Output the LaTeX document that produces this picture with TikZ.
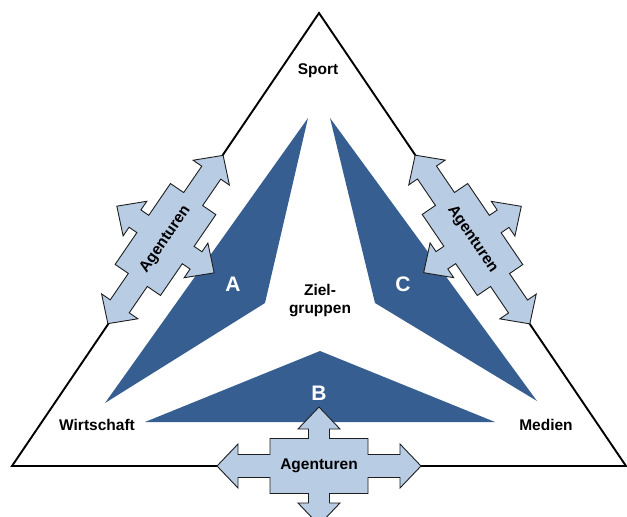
\documentclass[tikz,border=0pt]{standalone}
\usepackage{fontspec}
\usepackage{tikz}
\setmainfont{Liberation Sans}
\definecolor{dunkelblau}{RGB}{54,94,145}
\definecolor{hellblau}{RGB}{184,204,228}
\definecolor{rand}{RGB}{30,30,30}

\begin{document}
\begin{tikzpicture}[x=1pt,y=-1pt,
	feld/.style={fill=dunkelblau, draw=none},
	pfeil/.style={fill=hellblau, draw=rand, line width=0.9pt, line join=miter},
	beschriftung/.style={font=\fontsize{15.5}{18}\selectfont\bfseries, align=center},
	buchstabe/.style={font=\fontsize{21}{24}\selectfont\bfseries, text=white},
	agentur/.pic={\draw[pfeil] (102,0) -- (81,22) -- (81,11.5) -- (49,11.5) -- (49,27.5) -- (10.5,27.5) -- (10.5,37) -- (21,37) -- (0,59) -- (-21,37) -- (-10.5,37) -- (-10.5,27.5) -- (-49,27.5) -- (-49,11.5) -- (-81,11.5) -- (-81,22) -- (-102,0) -- (-81,-22) -- (-81,-11.5) -- (-49,-11.5) -- (-49,-27.5) -- (-10.5,-27.5) -- (-10.5,-37) -- (-21,-37) -- (0,-59) -- (21,-37) -- (10.5,-37) -- (10.5,-27.5) -- (49,-27.5) -- (49,-11.5) -- (81,-11.5) -- (81,-22) -- cycle;}]
		\useasboundingbox (0,0) rectangle (627,517);
		\begin{scope}                           % alles auf das Bild beschnitten
			\clip (0,0) rectangle (627,517);
			\draw[line width=1.9pt, line join=miter] (12,466) -- (319,13) -- (626,466) -- cycle;
			\fill[feld] (308,118) -- (265,303) -- (105,403) -- cycle;   % A
			\fill[feld] (330,118) -- (375,303) -- (537,401) -- cycle;   % C
			\fill[feld] (320,351) -- (495,422) -- (145,422) -- cycle;   % B
			\pic[rotate=55.6] at (165.5,239.5) {agentur};
			\pic[rotate=-55.8] at (472.5,239.5) {agentur};
			\pic at (319,466) {agentur};
		\end{scope}
		\node[beschriftung] (sport) at (318,71) {Sport};
		\node[beschriftung] (wirtschaft) at (97,425) {Wirtschaft};
		\node[beschriftung] (medien) at (546,425) {Medien};
		\node[beschriftung] (ziel) at (320,301) {Ziel-\\gruppen};
		\node[buchstabe] (a) at (233,284) {A};
		\node[buchstabe] (c) at (403,284) {C};
		\node[buchstabe] (b) at (319,393) {B};
		\node[beschriftung, rotate=55.6] (ag-links) at (165.5,239.5) {Agenturen};
		\node[beschriftung, rotate=-55.8] (ag-rechts) at (472.5,239.5) {Agenturen};
		\node[beschriftung] (ag-unten) at (319,466) {Agenturen};
		\end{tikzpicture}
\end{document}
